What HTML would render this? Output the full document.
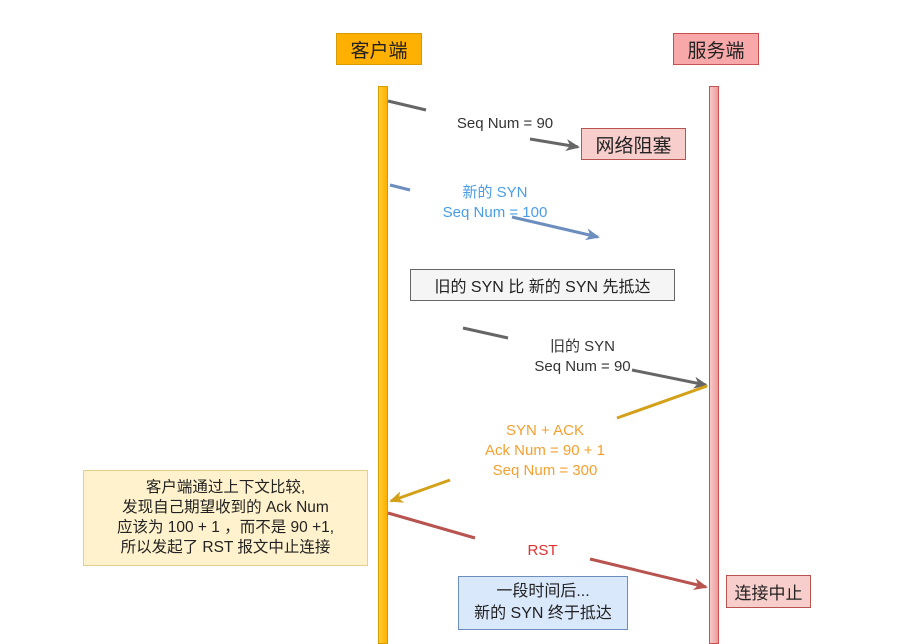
<!DOCTYPE html>
<html><head><meta charset="utf-8"><style>
body{margin:0;width:909px;height:644px;background:#fff;position:relative;overflow:hidden;font-family:"Liberation Sans","Noto Sans CJK SC",sans-serif;}
.b{position:absolute;box-sizing:border-box;display:flex;align-items:center;justify-content:center;text-align:center;color:#222;}
.t{position:absolute;font-size:15px;text-align:center;white-space:nowrap;line-height:20px;}
</style></head><body>
<div class="b" style="left:336px;top:33px;width:86px;height:32px;background:#ffb000;border:1px solid #d79b00;font-size:19px;">客户端</div>
<div class="b" style="left:673px;top:33px;width:86px;height:32px;background:#f8a8a8;border:1px solid #c85050;font-size:19px;">服务端</div>
<div style="position:absolute;left:378px;top:86px;width:10px;height:558px;background:linear-gradient(90deg,#ffcc33,#ffb000);border:1px solid #d79b00;box-sizing:border-box"></div>
<div style="position:absolute;left:709px;top:86px;width:10px;height:558px;background:linear-gradient(90deg,#f8caca,#ee9a9a);border:1px solid #c85050;box-sizing:border-box"></div>
<svg width="909" height="644" style="position:absolute;left:0;top:0">
<defs>
<marker id="m1" markerWidth="14" markerHeight="14" refX="12" refY="7" orient="auto" markerUnits="userSpaceOnUse"><path d="M0,1 L14,7 L0,13 L4,7z" fill="#666"/></marker>
<marker id="m2" markerWidth="14" markerHeight="14" refX="12" refY="7" orient="auto" markerUnits="userSpaceOnUse"><path d="M0,1 L14,7 L0,13 L4,7z" fill="#6c8ebf"/></marker>
<marker id="m3" markerWidth="14" markerHeight="14" refX="12" refY="7" orient="auto" markerUnits="userSpaceOnUse"><path d="M0,1 L14,7 L0,13 L4,7z" fill="#d4a017"/></marker>
<marker id="m4" markerWidth="14" markerHeight="14" refX="12" refY="7" orient="auto" markerUnits="userSpaceOnUse"><path d="M0,1 L14,7 L0,13 L4,7z" fill="#b85450"/></marker>
</defs>
<g stroke-width="3" fill="none">
<line x1="388" y1="101" x2="426" y2="110" stroke="#666"/>
<line x1="530" y1="139" x2="578" y2="147" stroke="#666" marker-end="url(#m1)"/>
<line x1="390" y1="185" x2="410" y2="190" stroke="#6c8ebf"/>
<line x1="512" y1="217" x2="598" y2="237" stroke="#6c8ebf" marker-end="url(#m2)"/>
<line x1="463" y1="328" x2="508" y2="338" stroke="#666"/>
<line x1="632" y1="370" x2="706" y2="385" stroke="#666" marker-end="url(#m1)"/>
<line x1="707" y1="386" x2="617" y2="418" stroke="#d4a017"/>
<line x1="450" y1="480" x2="391" y2="501" stroke="#d4a017" marker-end="url(#m3)"/>
<line x1="388" y1="513" x2="475" y2="538" stroke="#b85450"/>
<line x1="590" y1="559" x2="706" y2="587" stroke="#b85450" marker-end="url(#m4)"/>
</g></svg>
<div class="t" style="left:440px;top:114px;width:130px;color:#333">Seq Num = 90</div>
<div class="b" style="left:581px;top:128px;width:105px;height:32px;background:#f8cecc;border:1px solid #b85450;font-size:19px;">网络阻塞</div>
<div class="t" style="left:420px;top:183px;width:150px;color:#4a9de6">新的 SYN<br>Seq Num = 100</div>
<div class="b" style="left:410px;top:269px;width:265px;height:32px;background:#f5f5f5;border:1px solid #666;font-size:16px;">旧的 SYN 比 新的 SYN 先抵达</div>
<div class="t" style="left:515px;top:337px;width:135px;color:#333">旧的 SYN<br>Seq Num = 90</div>
<div class="t" style="left:470px;top:421px;width:150px;color:#f5a030">SYN + ACK<br>Ack Num =  90 + 1<br>Seq Num = 300</div>
<div class="b" style="left:83px;top:470px;width:285px;height:96px;background:#fff2cc;border:1px solid #e6cf8a;font-size:15.5px;line-height:20px;">客户端通过上下文比较,<br>发现自己期望收到的 Ack Num<br>应该为 100 + 1 ，而不是 90 +1,<br>所以发起了 RST 报文中止连接</div>
<div class="t" style="left:510px;top:541px;width:65px;color:#e03030">RST</div>
<div class="b" style="left:458px;top:576px;width:170px;height:54px;background:#dae8fc;border:1px solid #6c8ebf;font-size:16px;line-height:22px;">一段时间后...<br>新的 SYN 终于抵达</div>
<div class="b" style="left:726px;top:575px;width:85px;height:33px;background:#f8cecc;border:1px solid #b85450;font-size:17px;">连接中止</div>
</body></html>
